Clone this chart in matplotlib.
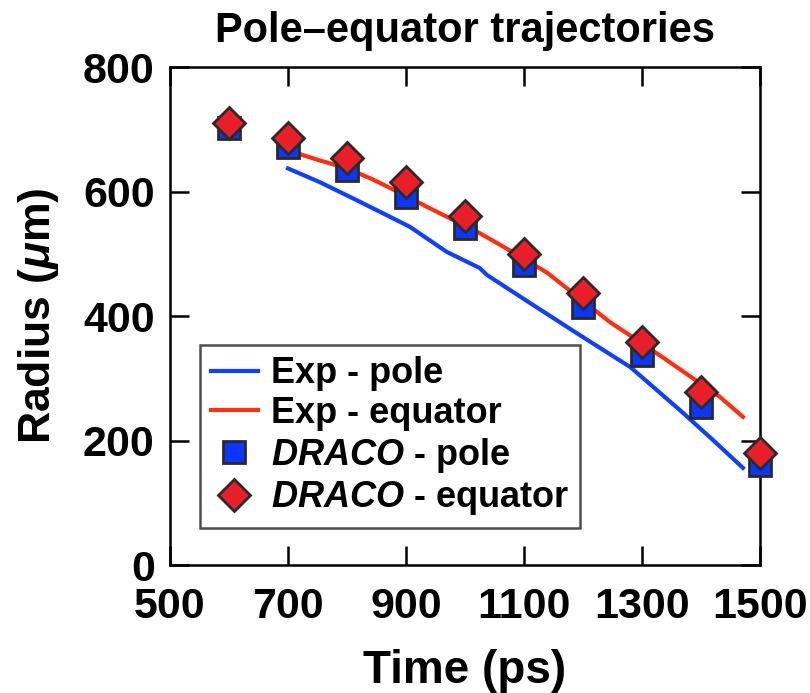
import matplotlib
matplotlib.use("Agg")
import matplotlib.pyplot as plt

plt.rcParams['font.family'] = ['Liberation Sans', 'DejaVu Sans']
plt.rcParams['font.weight'] = 'bold'
plt.rcParams['mathtext.fontset'] = 'custom'
plt.rcParams['mathtext.rm'] = 'Liberation Sans:bold'
plt.rcParams['mathtext.it'] = 'Liberation Sans:italic:bold'
plt.rcParams['mathtext.bf'] = 'Liberation Sans:bold'

exp_pole_t = [700, 754, 810, 861, 907, 969, 1025, 1037, 1110, 1195, 1280, 1364, 1420, 1471]
exp_pole_r = [637, 615, 589, 565, 543, 503, 477, 466, 421, 369, 318, 249, 201, 156]

exp_eq_t = [705, 720, 750, 800, 840, 900, 930, 970, 1000, 1025, 1060, 1100, 1140,
            1200, 1246, 1300, 1342, 1400, 1432, 1471]
exp_eq_r = [664, 660, 651, 637, 621, 593, 578, 559, 545, 533, 514, 492, 469,
            424, 390, 356, 329, 291, 270, 238]

# DRACO simulation points
draco_t = [600, 700, 800, 900, 1000, 1100, 1200, 1300, 1400, 1500]
draco_pole = [702, 671, 634, 591, 541, 482, 414, 337, 254, 161]
draco_eq = [710, 686, 654, 615, 561, 500, 437, 358, 278, 180]

fig = plt.figure(figsize=(8.1, 6.93), dpi=100)
ax = fig.add_axes([0.2099, 0.1847, 0.7284, 0.7186])

ax.plot(exp_pole_t, exp_pole_r, color='#1040ff', lw=3, label='Exp - pole')
ax.plot(exp_eq_t, exp_eq_r, color='#ff3010', lw=3, label='Exp - equator')
ax.plot(draco_t, draco_pole, 's', ms=16, mfc='#0a36ff', mec='#2a2a2a', mew=2,
        clip_on=False, zorder=5, label=r'$\it{DRACO}$ - pole')
ax.plot(draco_t, draco_eq, 'D', ms=16, mfc='#e81e28', mec='#2a2a2a', mew=2,
        clip_on=False, zorder=6, label=r'$\it{DRACO}$ - equator')

ax.set_xlim(500, 1500)
ax.set_ylim(0, 800)
ax.set_xticks([500, 700, 900, 1100, 1300, 1500])
ax.set_yticks([0, 200, 400, 600, 800])
ax.tick_params(direction='in', length=14, width=1.8, labelsize=31,
               top=True, right=True)
ax.tick_params(axis='x', pad=16)
ax.tick_params(axis='y', pad=11)
for s in ax.spines.values():
    s.set_linewidth(1.8)

ax.set_xlabel('Time (ps)', fontsize=33, fontweight='bold', labelpad=16)
ax.set_ylabel(r'Radius ($\mu$m)', fontsize=32, fontweight='bold', labelpad=16)
ax.set_title('Pole–equator trajectories', fontsize=30, fontweight='bold', pad=18)

leg = ax.legend(loc='lower left', bbox_to_anchor=(0.051, 0.074), borderaxespad=0,
                fontsize=26, frameon=True, fancybox=False, edgecolor='#222222',
                handlelength=1.3, handletextpad=0.35, labelspacing=0.13,
                borderpad=0.3)
leg.get_frame().set_linewidth(1.8)

fig.savefig('out.png', dpi=100)
